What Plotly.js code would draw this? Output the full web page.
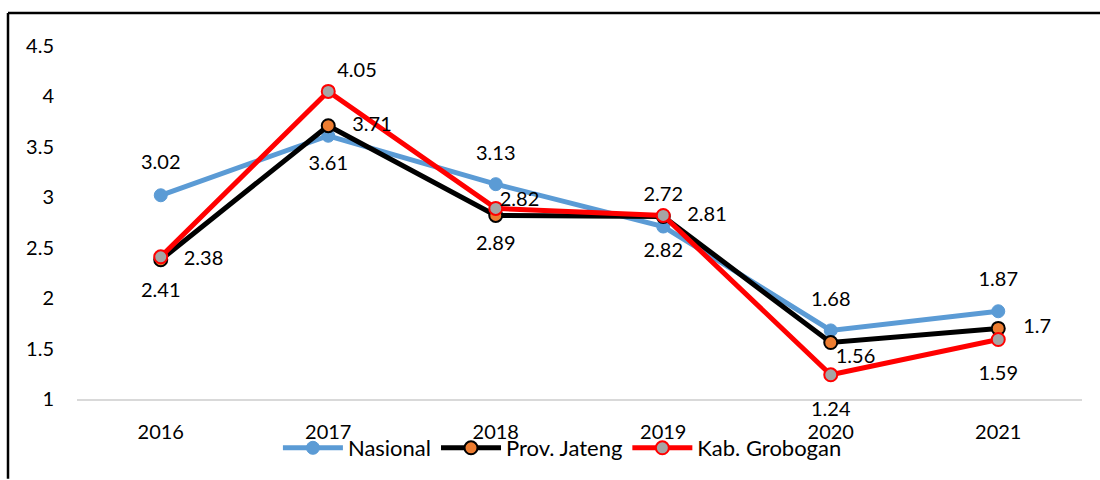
<!DOCTYPE html>
<html>
<head>
<meta charset="utf-8">
<script src="https://cdn.plot.ly/plotly-3.0.1.min.js"></script>
<style>
html,body{margin:0;padding:0;background:#fff;}
#chart{width:1100px;height:480px;}
</style>
</head>
<body>
<div id="chart"></div>
<script>
const years = ['2016','2017','2018','2019','2020','2021'];
const nasional = [3.02, 3.61, 3.13, 2.71, 1.68, 1.87];
const nasionalLabels = ['3.02','3.61','3.13','2.72','1.68','1.87'];
const jateng = [2.38, 3.71, 2.82, 2.81, 1.56, 1.70];
const jatengLabels = ['2.38','3.71','2.82','2.81','1.56','1.7'];
const grobogan = [2.41, 4.05, 2.89, 2.82, 1.24, 1.59];
const groboganLabels = ['2.41','4.05','2.89','2.82','1.24','1.59'];
const seriesNames = ['Nasional','Prov. Jateng','Kab. Grobogan'];

const FONT = 'Lato, "Open Sans", sans-serif';
const txtFont = {family: FONT, size: 20, color: '#000'};

// label placement (style): position and pixel distance from the point
const nasPos = ['top center','bottom center','top center','top center','top center','top center'];
const nasGap = [21, 19, 19, 21, 19, 20];
const jatPos = ['middle right','middle right','top right','middle right','bottom right','middle right'];
const jatGap = [23, 24, 4, 24, 5, 25];
const grbPos = ['bottom center','top right','bottom center','bottom center','bottom center','bottom center'];
const grbGap = [25, 9, 27, 27, 26, 26];
const gapToSize = g => g.map(r => Math.max(0, 1.6 * (r - 1)));

function lineTrace(y, name, lineColor, mColor, mLine, mLineW) {
  return {
    x: years, y: y, name: name, type: 'scatter', mode: 'lines+markers',
    line: {color: lineColor, width: 5},
    marker: {color: mColor, size: 13, line: {color: mLine, width: mLineW}},
    cliponaxis: false, hoverinfo: 'x+y'
  };
}
function labelTrace(y, labels, pos, gap) {
  return {
    x: years, y: y, type: 'scatter', mode: 'markers+text', showlegend: false,
    marker: {color: 'rgba(0,0,0,0)', size: gapToSize(gap), line: {width: 0}},
    text: labels, textposition: pos, textfont: txtFont,
    cliponaxis: false, hoverinfo: 'skip'
  };
}

const traces = [
  lineTrace(nasional, seriesNames[0], '#5B9BD5', '#5B9BD5', '#5B9BD5', 1),
  lineTrace(jateng, seriesNames[1], '#000000', '#ED7D31', '#000000', 2),
  lineTrace(grobogan, seriesNames[2], '#FF0000', '#A5A5A5', '#FF0000', 2),
  labelTrace(nasional, nasionalLabels, nasPos, nasGap),
  labelTrace(jateng, jatengLabels, jatPos, jatGap),
  labelTrace(grobogan, groboganLabels, grbPos, grbGap)
];

const L = 77, R = 18, T = 46, B = 80;
const pw = 1100 - L - R, ph = 480 - T - B;
const px = v => (v - L) / pw;
const py = v => (480 - B - v) / ph;

const layout = {
  width: 1100, height: 480,
  margin: {l: L, r: R, t: T, b: B, pad: 0},
  paper_bgcolor: '#ffffff', plot_bgcolor: '#ffffff',
  font: {family: FONT, size: 20, color: '#000'},
  showlegend: true,
  legend: {
    orientation: 'h', x: 0.483, xanchor: 'center', y: py(448), yanchor: 'middle',
    font: {family: FONT, size: 22, color: '#000'},
    bgcolor: 'rgba(0,0,0,0)', itemwidth: 60, tracegroupgap: 0
  },
  xaxis: {
    type: 'category', range: [-0.5, 5.5], fixedrange: true,
    showgrid: false, zeroline: false, showline: true, linecolor: '#D9D9D9', linewidth: 2,
    ticks: '', ticklabelstandoff: 14, tickfont: {family: FONT, size: 20, color: '#000'}
  },
  yaxis: {
    range: [1, 4.5], dtick: 0.5, tick0: 1, fixedrange: true,
    showgrid: false, zeroline: false, showline: false,
    ticks: '', ticklabelstandoff: 22, tickfont: {family: FONT, size: 20, color: '#000'}
  },
  shapes: [
    {type: 'line', xref: 'paper', yref: 'paper', x0: px(8), x1: px(1100), y0: py(13), y1: py(13), line: {color: '#000', width: 2.5}, layer: 'below'},
    {type: 'line', xref: 'paper', yref: 'paper', x0: px(8), x1: px(8), y0: py(13), y1: py(480), line: {color: '#000', width: 2.5}, layer: 'below'}
  ]
};

Plotly.newPlot('chart', traces, layout, {displayModeBar: false, staticPlot: true});
</script>
</body>
</html>
